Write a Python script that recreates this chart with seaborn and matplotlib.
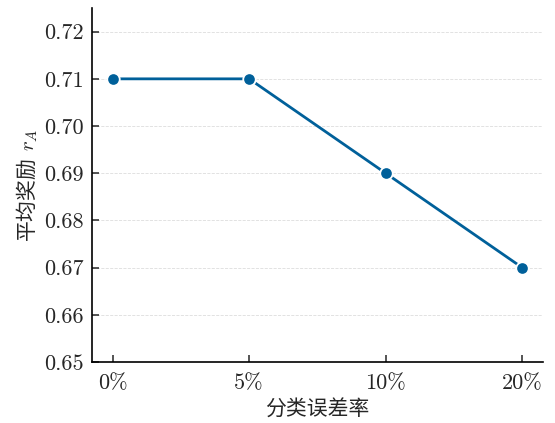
import matplotlib
matplotlib.use('Agg')
import matplotlib.pyplot as plt
import seaborn as sns
import pandas as pd

error_rates = ['0%', '5%', '10%', '20%']
avg_reward = [0.71, 0.71, 0.69, 0.67]
y_ticks = [0.65, 0.66, 0.67, 0.68, 0.69, 0.70, 0.71, 0.72]

sns.set_style('ticks')
plt.rcParams['font.family'] = ['cmr10', 'Noto Sans CJK SC']
plt.rcParams['mathtext.fontset'] = 'cm'
plt.rcParams['axes.formatter.use_mathtext'] = True
plt.rcParams['axes.unicode_minus'] = False

df = pd.DataFrame({'rate': error_rates, 'reward': avg_reward})

fig = plt.figure(figsize=(5.55, 4.23), dpi=100)
ax = fig.add_axes([0.166, 0.144, 0.812, 0.837])

sns.lineplot(data=df, x='rate', y='reward', ax=ax, color='#00609a',
             linewidth=2, marker='o', markersize=9,
             markeredgecolor='white', markeredgewidth=1.3, zorder=3)

ax.set_xlim(-0.15, 3.15)
ax.set_ylim(0.65, 0.725)
ax.set_yticks(y_ticks)
ax.set_yticklabels([f'{v:.2f}' for v in y_ticks])
ax.yaxis.grid(True, linestyle='--', linewidth=0.6, color='#dddddd', zorder=0)
ax.tick_params(direction='in', length=5, width=1.1, labelsize=16)
ax.tick_params(axis='x', pad=8)
ax.tick_params(axis='y', pad=6)

for s in ['top', 'right']:
    ax.spines[s].set_visible(False)
for s in ['left', 'bottom']:
    ax.spines[s].set_linewidth(1.2)
    ax.spines[s].set_color('black')

ax.set_xlabel('分类误差率', fontsize=15, family='Noto Sans CJK SC',
              fontweight='light', labelpad=4)
ax.set_ylabel(r'平均奖励 $\,r_A$', fontsize=15, family='Noto Sans CJK SC',
              fontweight='light', labelpad=3)

fig.savefig('out.png', dpi=100)
plt.close()
